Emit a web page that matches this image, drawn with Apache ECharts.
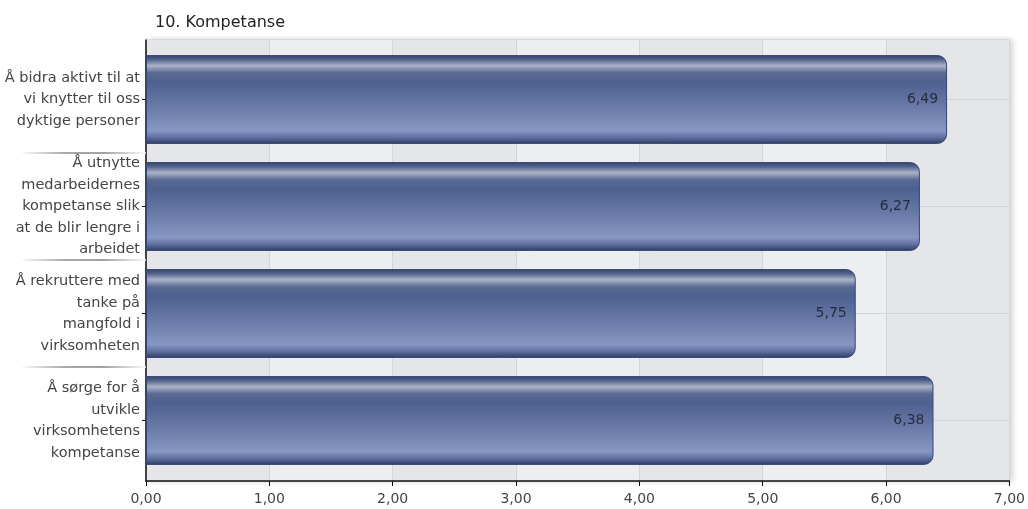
<!DOCTYPE html>
<html>
<head>
<meta charset="utf-8">
<script src="https://cdn.jsdelivr.net/npm/echarts@6/dist/echarts.min.js"></script>
<style>html,body{margin:0;padding:0;background:#fff}#c{width:1028px;height:509px}</style>
</head>
<body>
<div id="c"></div>
<script>
var title = '10. Kompetanse';
var categories = [
  'Å bidra aktivt til at\nvi knytter til oss\ndyktige personer',
  'Å utnytte\nmedarbeidernes\nkompetanse slik\nat de blir lengre i\narbeidet',
  'Å rekruttere med\ntanke på\nmangfold i\nvirksomheten',
  'Å sørge for å\nutvikle\nvirksomhetens\nkompetanse'
];
var values = [6.49, 6.27, 5.75, 6.38];
var xMin = 0, xMax = 7, xStep = 1;

var font = '"DejaVu Sans", sans-serif';
var W = 1028, H = 509;
var gTop = 46, gBottom = 35;
var band = (H - gTop - gBottom) / categories.length;
var chart = echarts.init(document.getElementById('c'), null, {renderer: 'canvas'});
var barGrad = new echarts.graphic.LinearGradient(0, 0, 0, 1, [
  {offset: 0, color: '#33436d'},
  {offset: 0.05, color: '#52628b'},
  {offset: 0.12, color: '#aab3c8'},
  {offset: 0.2, color: '#5a6a92'},
  {offset: 0.3, color: '#4e6090'},
  {offset: 0.55, color: '#6677a5'},
  {offset: 0.85, color: '#8797c3'},
  {offset: 0.93, color: '#5d6e9e'},
  {offset: 1, color: '#2c3a63'}
]);
var sepGrad = new echarts.graphic.LinearGradient(0, 0, 1, 0, [
  {offset: 0, color: 'rgba(255,255,255,1)'},
  {offset: 0.35, color: 'rgba(140,140,140,1)'},
  {offset: 0.65, color: 'rgba(130,130,130,1)'},
  {offset: 1, color: 'rgba(255,255,255,1)'}
]);
var fmt = function (v) { return v.toFixed(2).replace('.', ','); };

chart.setOption({
  animation: false,
  title: {
    text: title, left: 150, top: 10,
    textStyle: {fontFamily: font, fontSize: 16, fontWeight: 'normal', color: '#222'}
  },
  grid: [
    {left: 146, right: 18, top: 40, bottom: 28, show: true, backgroundColor: '#e6e8eb',
     borderColor: '#c4c6c9', borderWidth: 1, shadowBlur: 6, shadowColor: 'rgba(0,0,0,0.18)', shadowOffsetX: 3, shadowOffsetY: 0},
    {left: 146, right: 18, top: gTop, bottom: gBottom},
    {left: 146, right: 18, top: gTop + band, bottom: gBottom + band}
  ],
  xAxis: [
    {gridIndex: 0, type: 'value', min: xMin, max: xMax, interval: xStep,
     axisLine: {show: true, onZero: false, lineStyle: {color: '#111', width: 1.5}},
     axisTick: {show: true, length: 5, lineStyle: {color: '#111'}},
     axisLabel: {formatter: fmt, fontFamily: font, fontSize: 14, color: '#444', margin: 11},
     splitLine: {show: true, lineStyle: {color: '#d3d5d8', width: 1}},
     splitArea: {show: true, areaStyle: {color: ['#e4e6e9', '#eceef1']}}},
    {gridIndex: 1, type: 'value', min: xMin, max: xMax, interval: xStep, show: false},
    {gridIndex: 2, type: 'value', min: xMin, max: xMax, interval: xStep, show: false}
  ],
  yAxis: [
    {gridIndex: 0, type: 'value', min: 0, max: 1, axisLine: {show: true, lineStyle: {color: '#111', width: 1.5}},
     axisTick: {show: false}, axisLabel: {show: false}, splitLine: {show: false}},
    {gridIndex: 1, type: 'category', data: categories, inverse: true, position: 'left',
     axisLine: {show: false},
     axisTick: {show: true, alignWithLabel: true, length: 4, lineStyle: {color: '#111'}},
     axisLabel: {fontFamily: font, fontSize: 14.5, color: '#444', lineHeight: 21.5, margin: 6, align: 'right'},
     splitLine: {show: false}},
    {gridIndex: 2, type: 'value', min: 1, max: categories.length - 1, interval: 1, inverse: true, position: 'left', offset: 8,
     axisLine: {show: false},
     axisTick: {show: true, length: 124, lineStyle: {color: sepGrad, width: 1.5}},
     axisLabel: {show: false}, splitLine: {show: false}}
  ],
  series: [
    {type: 'bar', xAxisIndex: 1, yAxisIndex: 1, data: values, z: 1, silent: true,
     itemStyle: {opacity: 0},
     markLine: {silent: true, z: 1, symbol: 'none', label: {show: false},
       lineStyle: {color: '#d3d5d8', type: 'solid', width: 1},
       data: categories.map(function (c) { return {yAxis: c}; })}},
    {type: 'bar', xAxisIndex: 1, yAxisIndex: 1, data: values, z: 3, barGap: '-100%', barCategoryGap: '17%',
     itemStyle: {color: barGrad, borderRadius: [0, 9, 9, 0], borderColor: '#34456f', borderWidth: 1},
     label: {show: true, position: 'insideRight', distance: 9, formatter: function (p) { return fmt(p.value); },
       fontFamily: font, fontSize: 14, color: '#252c3d'}}
  ]
});
</script>
</body>
</html>
